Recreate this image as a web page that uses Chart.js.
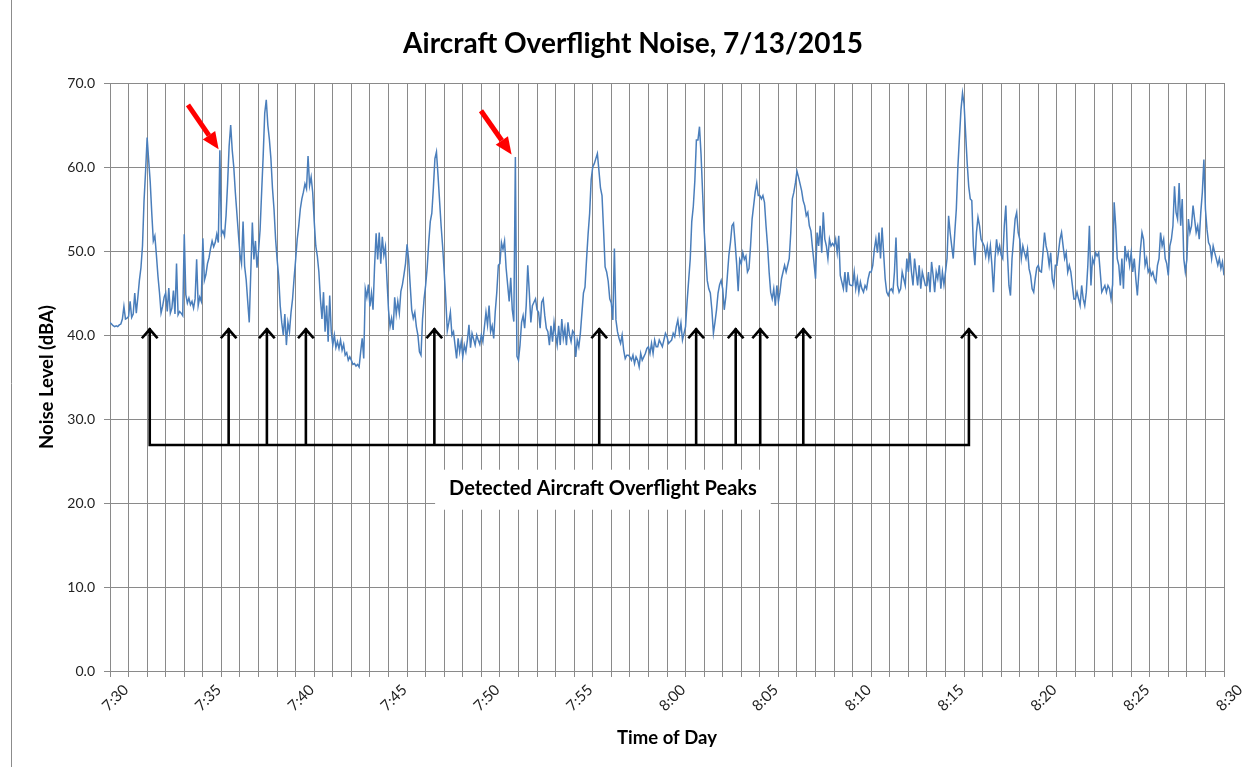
<!DOCTYPE html>
<html>
<head>
<meta charset="utf-8">
<title>Aircraft Overflight Noise</title>
<script src="https://cdn.jsdelivr.net/npm/chart.js@4.4.0/dist/chart.umd.min.js"></script>
<style>
  html, body { margin: 0; padding: 0; background: #fff; }
</style>
</head>
<body>
<canvas id="noiseChart" width="1248" height="767"></canvas>
<script>
// noise level (dBA), one reading every 5 s starting 7:30:00 - one row per minute
const noise = [
  41.5, 41.3, 41.1, 41.0, 41.1, 41.0, 41.2, 41.3, 41.9, 43.4, 41.9, 42.0, // 7:30
  42.2, 44.0, 42.1, 42.5, 45.0, 42.6, 44.5, 46.5, 48.0, 50.6, 56.0, 59.5, // 7:31
  63.5, 60.8, 58.2, 54.5, 51.2, 51.8, 49.5, 47.0, 45.0, 42.6, 43.4, 44.5,
  45.0, 42.8, 45.6, 42.6, 43.2, 45.3, 42.5, 48.5, 42.4, 42.8, 42.6, 42.3,
  52.0, 44.8, 43.8, 44.4, 43.6, 44.0, 43.2, 44.3, 49.0, 43.5, 44.5, 44.0,
  51.5, 46.5, 47.2, 48.5, 49.2, 50.3, 51.2, 50.5, 51.0, 52.0, 51.0, 62.0, // 7:35
  52.0, 52.4, 51.8, 54.2, 58.0, 62.5, 65.0, 62.0, 60.0, 57.0, 54.5, 52.0,
  49.6, 48.5, 53.5, 48.2, 46.6, 44.0, 41.5, 47.5, 53.4, 49.0, 51.2, 48.0,
  50.0, 52.5, 57.0, 61.3, 66.4, 68.0, 65.0, 63.3, 61.0, 57.5, 55.0, 51.5,
  49.0, 47.0, 43.5, 41.5, 40.0, 42.5, 38.8, 41.5, 40.4, 42.7, 44.3, 46.8,
  49.0, 51.4, 53.0, 55.0, 56.2, 57.0, 58.0, 57.4, 61.3, 57.8, 58.8, 57.0, // 7:40
  53.5, 50.6, 49.4, 47.5, 44.3, 41.9, 45.1, 40.4, 43.5, 39.2, 44.7, 40.4,
  38.8, 40.0, 38.5, 39.2, 38.4, 39.4, 38.2, 38.9, 37.6, 37.9, 37.0, 37.4,
  37.0, 36.5, 36.6, 36.3, 36.5, 36.2, 38.0, 39.6, 37.2, 45.5, 44.5, 46.0,
  43.4, 45.0, 43.0, 48.2, 52.1, 49.0, 52.2, 48.5, 51.7, 49.5, 50.5, 46.6,
  43.0, 41.0, 42.0, 40.6, 44.5, 42.5, 44.0, 42.6, 45.2, 46.0, 47.2, 48.5, // 7:45
  50.8, 49.0, 46.0, 43.0, 42.0, 42.7, 41.0, 40.0, 38.0, 37.6, 41.9, 44.3,
  45.9, 48.0, 51.0, 53.5, 54.5, 57.5, 61.0, 61.8, 59.0, 56.0, 53.0, 50.5,
  47.5, 44.3, 40.5, 41.5, 42.7, 40.0, 40.4, 38.8, 37.2, 39.6, 38.0, 39.2,
  37.4, 38.8, 38.0, 39.4, 41.2, 38.5, 40.2, 39.5, 38.8, 40.0, 39.4, 38.9,
  40.0, 39.2, 41.0, 42.7, 41.2, 43.5, 40.4, 41.1, 39.6, 42.8, 45.1, 48.3, // 7:50
  48.5, 51.0, 50.2, 51.2, 48.0, 46.0, 44.0, 46.8, 43.0, 41.6, 61.2, 37.5,
  37.0, 38.8, 41.5, 42.3, 40.8, 43.5, 48.3, 45.1, 41.5, 43.5, 43.9, 44.3,
  43.0, 42.7, 40.8, 43.9, 44.3, 42.3, 40.8, 40.4, 38.8, 41.1, 39.2, 41.5,
  40.0, 38.8, 41.1, 38.8, 41.9, 39.6, 40.8, 38.8, 41.5, 40.0, 39.2, 40.5,
  40.2, 37.4, 39.4, 38.6, 40.2, 42.6, 45.0, 45.7, 49.0, 52.0, 54.5, 58.5, // 7:55
  60.0, 60.4, 61.0, 61.6, 59.6, 57.5, 56.6, 52.5, 48.1, 47.5, 46.4, 44.3,
  43.8, 41.8, 50.3, 41.8, 40.4, 39.6, 39.0, 40.0, 38.2, 37.2, 37.6, 37.6,
  37.4, 37.0, 37.6, 36.6, 37.4, 37.0, 36.2, 37.8, 37.0, 37.4, 37.8, 38.4,
  38.6, 37.8, 39.0, 37.8, 39.4, 38.6, 38.6, 39.4, 39.0, 38.6, 39.4, 40.2,
  39.8, 39.0, 39.2, 39.4, 40.2, 39.8, 41.0, 41.8, 40.2, 41.4, 39.4, 40.2, // 8:00
  41.0, 44.0, 46.5, 49.0, 53.5, 55.3, 58.4, 63.2, 63.2, 64.8, 61.5, 57.0,
  52.5, 49.5, 46.5, 45.5, 45.0, 43.0, 40.2, 41.5, 43.0, 45.0, 46.0, 46.5,
  45.5, 43.0, 44.5, 47.0, 49.5, 51.0, 53.0, 53.3, 51.0, 48.5, 45.2, 49.0,
  48.5, 49.8, 49.0, 49.4, 47.5, 47.9, 50.6, 53.8, 55.4, 57.0, 58.1, 56.6,
  56.6, 56.2, 56.6, 55.8, 53.0, 50.6, 47.5, 45.1, 44.3, 45.5, 43.5, 45.9, // 8:05
  44.0, 45.1, 46.7, 47.5, 48.3, 47.5, 48.3, 49.1, 52.2, 56.2, 57.0, 58.1,
  59.5, 58.8, 58.0, 57.2, 56.0, 55.4, 54.2, 54.6, 53.0, 52.4, 50.4, 48.6,
  46.7, 52.2, 50.6, 53.0, 49.8, 54.6, 51.4, 50.6, 49.1, 51.4, 50.6, 50.9,
  50.6, 51.4, 49.8, 51.8, 47.1, 46.3, 45.5, 47.5, 45.1, 47.5, 46.0, 45.9,
  45.9, 47.5, 45.5, 46.7, 45.1, 46.3, 45.5, 45.1, 45.9, 45.5, 46.7, 47.5, // 8:10
  47.5, 48.3, 50.2, 51.4, 49.8, 52.2, 49.1, 52.8, 49.8, 46.7, 45.1, 44.7,
  45.3, 45.5, 45.1, 47.5, 51.6, 45.9, 45.1, 45.5, 47.5, 46.7, 45.9, 49.1,
  47.5, 49.8, 47.5, 45.9, 49.1, 47.5, 45.9, 48.3, 45.5, 47.5, 46.7, 45.9,
  45.9, 47.5, 45.1, 48.7, 47.1, 45.1, 47.5, 46.7, 48.3, 45.5, 47.5, 46.0,
  47.5, 49.1, 54.2, 52.2, 50.6, 49.1, 52.2, 55.0, 60.0, 63.5, 66.8, 68.8, // 8:15
  67.5, 64.0, 60.5, 57.7, 56.2, 56.0, 50.6, 48.3, 52.2, 54.0, 53.0, 51.4,
  51.0, 50.6, 49.4, 50.6, 49.1, 50.6, 48.3, 45.1, 49.1, 51.4, 49.8, 50.6,
  49.5, 49.1, 53.0, 55.4, 49.8, 45.9, 44.7, 49.1, 51.4, 53.8, 54.6, 52.2,
  51.4, 49.1, 50.6, 49.8, 49.1, 50.2, 47.9, 47.1, 45.5, 45.1, 46.7, 48.0,
  48.3, 47.6, 47.5, 49.8, 52.2, 50.6, 49.8, 48.3, 49.8, 46.7, 45.9, 48.3, // 8:20
  48.3, 49.8, 51.4, 52.2, 50.6, 49.1, 49.8, 47.5, 48.3, 47.5, 45.9, 44.3,
  44.3, 45.1, 44.3, 43.5, 45.9, 44.3, 43.5, 45.1, 48.3, 53.0, 45.9, 49.1,
  48.5, 49.8, 49.4, 49.8, 47.5, 45.1, 45.5, 45.9, 45.1, 45.9, 45.5, 44.3,
  46.0, 55.8, 53.0, 49.1, 48.3, 45.9, 49.1, 45.5, 50.6, 49.1, 49.8, 48.3,
  49.8, 47.5, 49.1, 46.7, 44.7, 47.5, 50.2, 52.2, 51.4, 48.3, 49.1, 47.5, // 8:25
  47.9, 47.1, 47.5, 46.7, 46.3, 48.3, 49.1, 52.2, 50.6, 51.4, 49.1, 48.5,
  47.1, 50.6, 51.4, 53.0, 57.7, 54.6, 53.8, 58.1, 53.0, 56.2, 49.1, 47.5,
  49.0, 53.8, 52.2, 53.0, 55.4, 53.8, 52.2, 53.0, 51.4, 54.6, 57.0, 60.9,
  55.0, 52.6, 51.0, 50.6, 49.1, 50.6, 49.8, 49.1, 48.3, 49.1, 47.9, 48.7,
  47.1 // 8:30
];
const sampleMinutes = 5 / 60;

const timeLabels = ['7:30', '7:35', '7:40', '7:45', '7:50', '7:55', '8:00',
                    '8:05', '8:10', '8:15', '8:20', '8:25', '8:30'];

// detected overflight peaks, minutes after 7:30
const peakTimes = [2.14, 6.39, 8.45, 10.55, 17.47, 26.35, 31.57, 33.7, 35.02, 37.34, 46.26];
const peakArrowTop = 40.8;   // dBA
const peakArrowBase = 26.9;
const peakCaption = 'Detected Aircraft Overflight Peaks';
const captionAt = [26.55, 21.7];

// red arrows pointing at short spikes: [tail, tip] as [minutes, dBA]
const spikeArrows = [
  [[4.2, 67.4], [5.85, 62.1]],
  [[19.98, 66.7], [21.63, 61.5]]
];

const FONT = 'Lato, "Open Sans", sans-serif';

const overlay = {
    id: 'overlay',
    afterDatasetsDraw(chart) {
        const {ctx, scales: {x, y}} = chart;
        ctx.save();

        // black peak arrows joined at the bottom
        const yBase = y.getPixelForValue(peakArrowBase);
        const yTop = y.getPixelForValue(peakArrowTop);
        ctx.strokeStyle = '#000';
        ctx.lineWidth = 2.6;
        ctx.lineJoin = 'miter';
        ctx.lineCap = 'square';
        ctx.beginPath();
        ctx.moveTo(x.getPixelForValue(peakTimes[0]), yBase);
        ctx.lineTo(x.getPixelForValue(peakTimes[peakTimes.length - 1]), yBase);
        peakTimes.forEach(t => {
            const px = x.getPixelForValue(t);
            ctx.moveTo(px, yBase);
            ctx.lineTo(px, yTop + 1);
            ctx.moveTo(px - 7, yTop + 9);
            ctx.lineTo(px, yTop + 1);
            ctx.lineTo(px + 7, yTop + 9);
        });
        ctx.stroke();

        // caption on a white box
        ctx.font = 'bold 20px ' + FONT;
        const tw = ctx.measureText(peakCaption).width;
        const cx = x.getPixelForValue(captionAt[0]);
        const cy = y.getPixelForValue(captionAt[1]);
        ctx.fillStyle = '#fff';
        ctx.fillRect(cx - tw / 2 - 14, cy - 19, tw + 28, 40);
        ctx.fillStyle = '#000';
        ctx.textAlign = 'center';
        ctx.textBaseline = 'middle';
        ctx.fillText(peakCaption, cx, cy);

        // red arrows
        ctx.fillStyle = '#ff0000';
        ctx.strokeStyle = '#ff0000';
        ctx.lineWidth = 5;
        ctx.lineCap = 'butt';
        spikeArrows.forEach(([tail, tip]) => {
            const x0 = x.getPixelForValue(tail[0]), y0 = y.getPixelForValue(tail[1]);
            const x1 = x.getPixelForValue(tip[0]), y1 = y.getPixelForValue(tip[1]);
            const a = Math.atan2(y1 - y0, x1 - x0);
            const head = 17, half = 7.5;
            const bx = x1 - head * Math.cos(a), by = y1 - head * Math.sin(a);
            ctx.beginPath();
            ctx.moveTo(x0, y0);
            ctx.lineTo(bx, by);
            ctx.stroke();
            ctx.beginPath();
            ctx.moveTo(x1, y1);
            ctx.lineTo(bx + half * Math.sin(a), by - half * Math.cos(a));
            ctx.lineTo(bx - half * Math.sin(a), by + half * Math.cos(a));
            ctx.closePath();
            ctx.fill();
        });
        ctx.restore();
    },
    afterDraw(chart) {
        const {ctx, chartArea} = chart;
        ctx.save();
        ctx.fillStyle = '#000';
        ctx.textAlign = 'center';
        ctx.textBaseline = 'middle';
        ctx.font = 'bold 28px ' + FONT;
        ctx.fillText('Aircraft Overflight Noise, 7/13/2015', 633, 44);
        ctx.font = 'bold 18.5px ' + FONT;
        ctx.fillText('Time of Day', (chartArea.left + chartArea.right) / 2, 738);
        ctx.translate(47, (chartArea.top + chartArea.bottom) / 2);
        ctx.rotate(-Math.PI / 2);
        ctx.fillText('Noise Level (dBA)', 0, 0);
        ctx.restore();

        // outer chart border (only the left edge is in frame)
        ctx.save();
        ctx.strokeStyle = '#8c8c8c';
        ctx.lineWidth = 1;
        ctx.beginPath();
        ctx.moveTo(11.5, 0);
        ctx.lineTo(11.5, 767);
        ctx.stroke();
        ctx.restore();
    }
};

const gridStyle = {color: '#8a8a8a', lineWidth: 1, tickLength: 6};

new Chart(document.getElementById('noiseChart'), {
    type: 'line',
    data: {
        datasets: [{
            data: noise.map((v, i) => ({x: i * sampleMinutes, y: v})),
            borderColor: '#4a7ebb',
            borderWidth: 1.5,
            pointRadius: 0,
            tension: 0
        }]
    },
    options: {
        responsive: false,
        animation: false,
        layout: {padding: {top: 83, right: 24, bottom: 0, left: 0}},
        plugins: {legend: {display: false}, tooltip: {enabled: false}},
        scales: {
            x: {
                type: 'linear',
                min: 0,
                max: 60,
                afterFit: s => { s.height = 96; },
                grid: gridStyle,
                border: {color: '#8a8a8a'},
                ticks: {
                    stepSize: 1,
                    autoSkip: false,
                    minRotation: 45,
                    maxRotation: 45,
                    labelOffset: 16,
                    padding: 4,
                    color: '#222',
                    font: {family: FONT, size: 15},
                    callback: v => (v % 5 === 0 ? timeLabels[v / 5] : '')
                }
            },
            y: {
                min: 0,
                max: 70,
                afterFit: s => { s.width = 110; },
                grid: gridStyle,
                border: {color: '#8a8a8a'},
                ticks: {
                    stepSize: 10,
                    padding: 9,
                    color: '#222',
                    font: {family: FONT, size: 14},
                    callback: v => v.toFixed(1)
                }
            }
        }
    },
    plugins: [overlay]
});
</script>
</body>
</html>
